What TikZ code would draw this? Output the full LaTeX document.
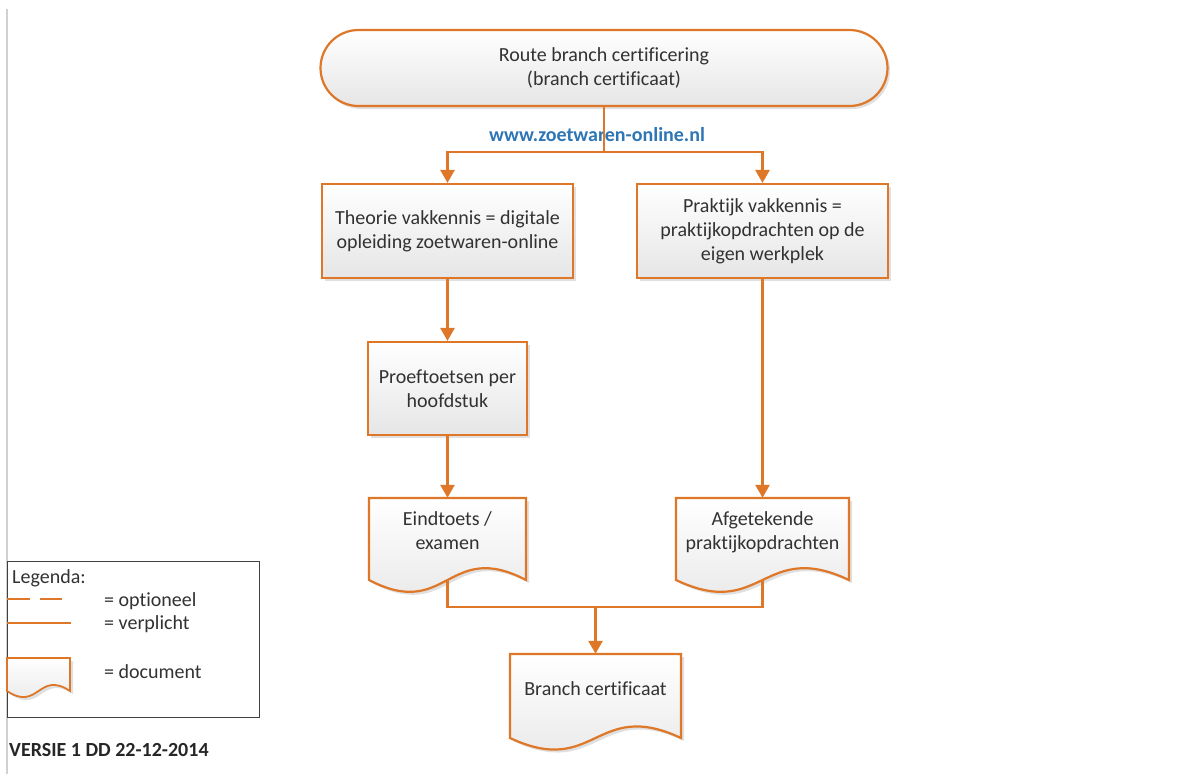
\documentclass[tikz,border=0pt]{standalone}
\usepackage{fontspec}
\setmainfont{Carlito}[Ligatures=NoCommon]
\usetikzlibrary{arrows.meta,calc}
\definecolor{org}{RGB}{222,120,40}
\definecolor{txt}{RGB}{50,50,50}
\definecolor{url}{RGB}{46,117,182}
\tikzset{
  conn/.style={draw=org,line width=2.6pt},
  arr/.style={conn,-{Triangle[length=13pt,width=14pt]}},
  boxfill/.style={top color=white,bottom color=black!10},
  procbox/.style={draw=org,line width=2.2pt,boxfill,text=txt,align=center,font=\fontsize{20}{24}\selectfont,inner sep=0pt},
  docbox/.style={text=txt,align=center,font=\fontsize{20}{24}\selectfont,inner sep=0pt},
  legtext/.style={anchor=west,text=txt,font=\fontsize{20}{22}\selectfont,inner sep=0pt},
  docline/.style={draw=org,line width=2.2pt},
  shadowc/.style={fill=black!12},
}
\begin{document}
\begin{tikzpicture}[x=1pt,y=-1pt]
\useasboundingbox (0,0) rectangle (1197,774);
\fill[white] (0,0) rectangle (1197,774);
% left page line
\draw[black!18,line width=2pt] (7,9) -- (7,774);

% terminal
\fill[shadowc,rounded corners=38pt] (323,33) rectangle (890,109);
\node[procbox,rounded corners=38pt,minimum width=567pt,minimum height=76pt] (start) at (604,68)
  {Route branch certificering\\(branch certificaat)};

\node[text=url,font=\fontsize{20}{22}\selectfont\bfseries] (www) at (597,135) {www.zoetwaren-online.nl};

% process boxes
\fill[shadowc] (325,187) rectangle (576,281);
\node[procbox,minimum width=251pt,minimum height=94pt] (theorie) at (447.5,231) {Theorie vakkennis = digitale\\opleiding zoetwaren-online};
\fill[shadowc] (640,187) rectangle (891,281);
\node[procbox,minimum width=251pt,minimum height=94pt] (praktijk) at (762.5,231) {Praktijk vakkennis =\\praktijkopdrachten op de\\eigen werkplek};
\fill[shadowc] (371,345) rectangle (530,438);
\node[procbox,minimum width=159pt,minimum height=93pt] (proef) at (447.5,388.5) {Proeftoetsen per\\hoofdstuk};

% document shapes
\newcommand{\docshape}[6]{% L R T B d style
  \fill[shadowc] ($(#1,#3)+(3,3)$) -- ($(#2,#3)+(3,3)$) -- ($(#2,#4)+(3,3)$) .. controls ($({(#1+#2)/2},#4)+(3,3-#5)$) and ($({(#1+#2)/2},#4)+(3,3+#5)$) .. ($(#1,#4)+(3,3)$) -- cycle;
  \draw[#6] (#1,#3) -- (#2,#3) -- (#2,#4) .. controls ({(#1+#2)/2},{#4-#5}) and ({(#1+#2)/2},{#4+#5}) .. (#1,#4) -- cycle;
}
\docshape{369}{526}{498}{580}{41}{docline,boxfill}
\node[docbox,minimum width=157pt,minimum height=82pt] (eind) at (447.5,539) {};
\node[docbox] at (447.5,531) {Eindtoets /\\examen};
\coordinate (eindb) at (447.5,580);

\docshape{676}{849}{498}{580}{41}{docline,boxfill}
\node[docbox,minimum width=173pt,minimum height=82pt] (afg) at (762.5,539) {};
\node[docbox] at (762.5,532) {Afgetekende\\praktijkopdrachten};
\coordinate (afgb) at (762.5,580);

\docshape{510}{681}{654}{738}{40}{docline,boxfill}
\node[docbox,minimum width=171pt,minimum height=84pt] (branch) at (595.5,696) {};
\node[docbox] at (595.5,689) {Branch certificaat};

% connectors
\coordinate (split) at (start.south |- 0,152);
\draw[conn] (start.south) -- (split);
\draw[arr] (split) -| (theorie.north);
\draw[arr] (split) -| (praktijk.north);
\draw[arr] (theorie.south) -- (proef.north);
\draw[arr] (proef.south) -- (eind.north);
\draw[arr] (praktijk.south) -- (afg.north);
\coordinate (merge) at (595.5,607);
\draw[conn] (eindb) |- (merge);
\draw[conn] (afgb) |- (merge);
\draw[arr] (merge) -- (branch.north);

% legend
\draw[black!75,line width=1pt] (7,561) rectangle (259,717);
\node[legtext] (leg) at (12,578) {Legenda:};
\coordinate (d1) at (7,599);
\coordinate (d2) at (62,599);
\draw[conn,line width=2pt,dash pattern=on 23pt off 10pt] (d1) -- (d2);
\node[legtext] (opt) at (104,601) {= optioneel};
\coordinate (s1) at (7,623);
\coordinate (s2) at (71,623);
\draw[conn,line width=2pt] (s1) -- (s2);
\node[legtext] (verp) at (104,624) {= verplicht};
\docshape{7}{70}{658}{691}{21}{docline,line width=1.8pt,boxfill}
\node[legtext] (docl) at (104,672) {= document};

\node[anchor=west,text=black!85,font=\fontsize{20}{22}\selectfont\bfseries,inner sep=0pt] (versie) at (9,750) {VERSIE 1 DD 22-12-2014};
\end{tikzpicture}
\end{document}
